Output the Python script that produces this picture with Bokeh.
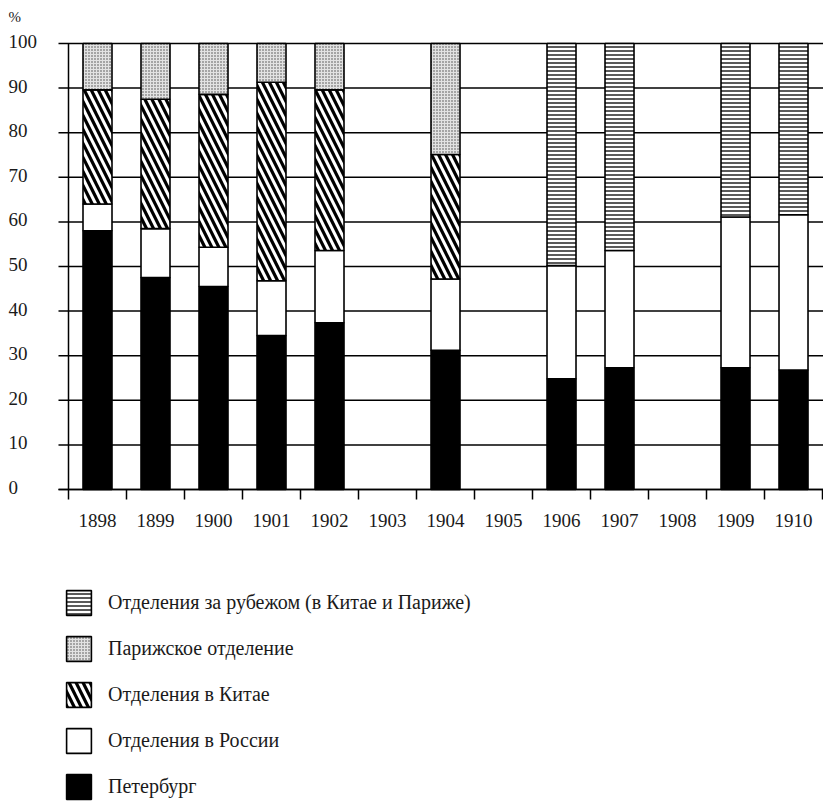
from bokeh.plotting import figure
from bokeh.models import (ColumnDataSource, FixedTicker, LabelSet, Label,
                          Legend, LegendItem, Range1d, LinearAxis)
from bokeh.embed import file_html
from bokeh.resources import INLINE

# ---------------- data ----------------
years = ["1898", "1899", "1900", "1901", "1902", "1903", "1904",
         "1905", "1906", "1907", "1908", "1909", "1910"]
petersburg = [58.0, 47.5, 45.5, 34.5, 37.4, 0, 31.2, 0, 24.8, 27.3, 0, 27.3, 26.8]
russia     = [6.0, 11.0, 8.8, 12.3, 16.2, 0, 16.0, 0, 25.4, 26.3, 0, 33.8, 34.8]
china      = [25.6, 29.0, 34.3, 44.5, 36.0, 0, 27.9, 0, 0, 0, 0, 0, 0]
paris      = [10.4, 12.5, 11.4, 8.7, 10.4, 0, 24.9, 0, 0, 0, 0, 0, 0]
abroad     = [0, 0, 0, 0, 0, 0, 0, 0, 49.8, 46.4, 0, 38.9, 38.4]
y_ticks = [0, 10, 20, 30, 40, 50, 60, 70, 80, 90, 100]

names = {
    "abroad": "Отделения за рубежом (в Китае и Париже)",
    "paris": "Парижское отделение",
    "china": "Отделения в Китае",
    "russia": "Отделения в России",
    "petersburg": "Петербург",
}

FONT = "Liberation Serif"
TXT = "#1a1a1a"

n = len(years)
centers = [2 * k + 1 for k in range(n)]
bounds = [2 * k for k in range(n + 1)]

# layout: frame covers the whole canvas
W, H = 823, 801
X0, X1 = -2.3448, 26.034      # page x 0 .. 823
Y0, Y1 = -69.955, 109.641     # page y 801 .. 0
GRID_LO = -0.345              # grid lines start a little left of first boundary

p = figure(width=W, height=H, output_backend="svg", toolbar_location=None,
           x_range=Range1d(X0, X1), y_range=Range1d(Y0, Y1),
           x_axis_location=None, y_axis_location=None,
           min_border=0, min_border_left=0, min_border_right=0,
           min_border_top=0, min_border_bottom=0)
p.outline_line_color = None
p.background_fill_color = "white"
p.grid.visible = False

# horizontal grid lines
p.segment(x0=[GRID_LO] * len(y_ticks), y0=y_ticks,
          x1=[X1] * len(y_ticks), y1=y_ticks,
          line_color="black", line_width=1.5)
# left vertical line
p.segment(x0=[bounds[0]], y0=[y_ticks[0]], x1=[bounds[0]], y1=[y_ticks[-1]],
          line_color="black", line_width=1.5)

styles = {
    "petersburg": dict(fill_color="black"),
    "russia": dict(fill_color="white"),
    "china": dict(fill_color="white", hatch_pattern="\\", hatch_scale=14,
                  hatch_weight=3.2, hatch_color="black"),
    "paris": dict(fill_color="#e2e2e2", hatch_pattern=".", hatch_scale=3,
                  hatch_weight=1, hatch_color="#444444"),
    "abroad": dict(fill_color="white", hatch_pattern="-", hatch_scale=4,
                   hatch_weight=1.5, hatch_color="#222222"),
}

series = [("petersburg", petersburg), ("russia", russia), ("china", china),
          ("paris", paris), ("abroad", abroad)]
cum = [0.0] * n
renderers = {}
for key, vals in series:
    xs, bots, tops = [], [], []
    for k in range(n):
        v = vals[k]
        if v > 0:
            xs.append(centers[k])
            bots.append(cum[k])
            tops.append(cum[k] + v)
            cum[k] += v
    src = ColumnDataSource(dict(x=xs, bottom=bots, top=tops))
    r = p.vbar(x="x", bottom="bottom", top="top", width=1.0, source=src,
               line_color="black", line_width=1.6, **styles[key])
    renderers[key] = r

# x axis at y = 0
xa = LinearAxis(fixed_location=0, bounds=(GRID_LO, X1))
xa.ticker = FixedTicker(ticks=centers, minor_ticks=bounds)
xa.major_label_overrides = {c: y for c, y in zip(centers, years)}
xa.major_tick_out = 0
xa.major_tick_in = 0
xa.minor_tick_out = 10
xa.minor_tick_in = 0
xa.minor_tick_line_color = "black"
xa.minor_tick_line_width = 1.5
xa.axis_line_color = "black"
xa.axis_line_width = 1.5
xa.major_label_text_font = FONT
xa.major_label_text_font_size = "19px"
xa.major_label_text_color = TXT
xa.major_label_standoff = 15
p.add_layout(xa, "below")

# y tick labels, left aligned at the page edge
ysrc = ColumnDataSource(dict(y=y_ticks, t=[str(v) for v in y_ticks],
                             x=[8] * len(y_ticks)))
ylabels = LabelSet(x="x", y="y", text="t", source=ysrc, x_units="screen",
                   y_offset=2, text_align="left", text_baseline="middle",
                   text_font=FONT, text_font_size="19px", text_color=TXT)
p.add_layout(ylabels)

p.add_layout(Label(x=8, y=H - 16, x_units="screen", y_units="screen", text="%",
                   text_align="left", text_baseline="middle", text_font=FONT,
                   text_font_size="15px", text_color=TXT))

# legend
items = [LegendItem(label=names[k], renderers=[renderers[k]])
         for k in ["abroad", "paris", "china", "russia", "petersburg"]]
legend = Legend(items=items, location=(63, -1), orientation="vertical",
                glyph_width=31, glyph_height=31, spacing=15, padding=0,
                margin=0, label_standoff=14, border_line_color=None,
                background_fill_alpha=0, label_text_font=FONT,
                label_text_font_size="20px", label_text_color=TXT)
p.add_layout(legend, "center")

open("out.html", "w").write(file_html(p, INLINE))
